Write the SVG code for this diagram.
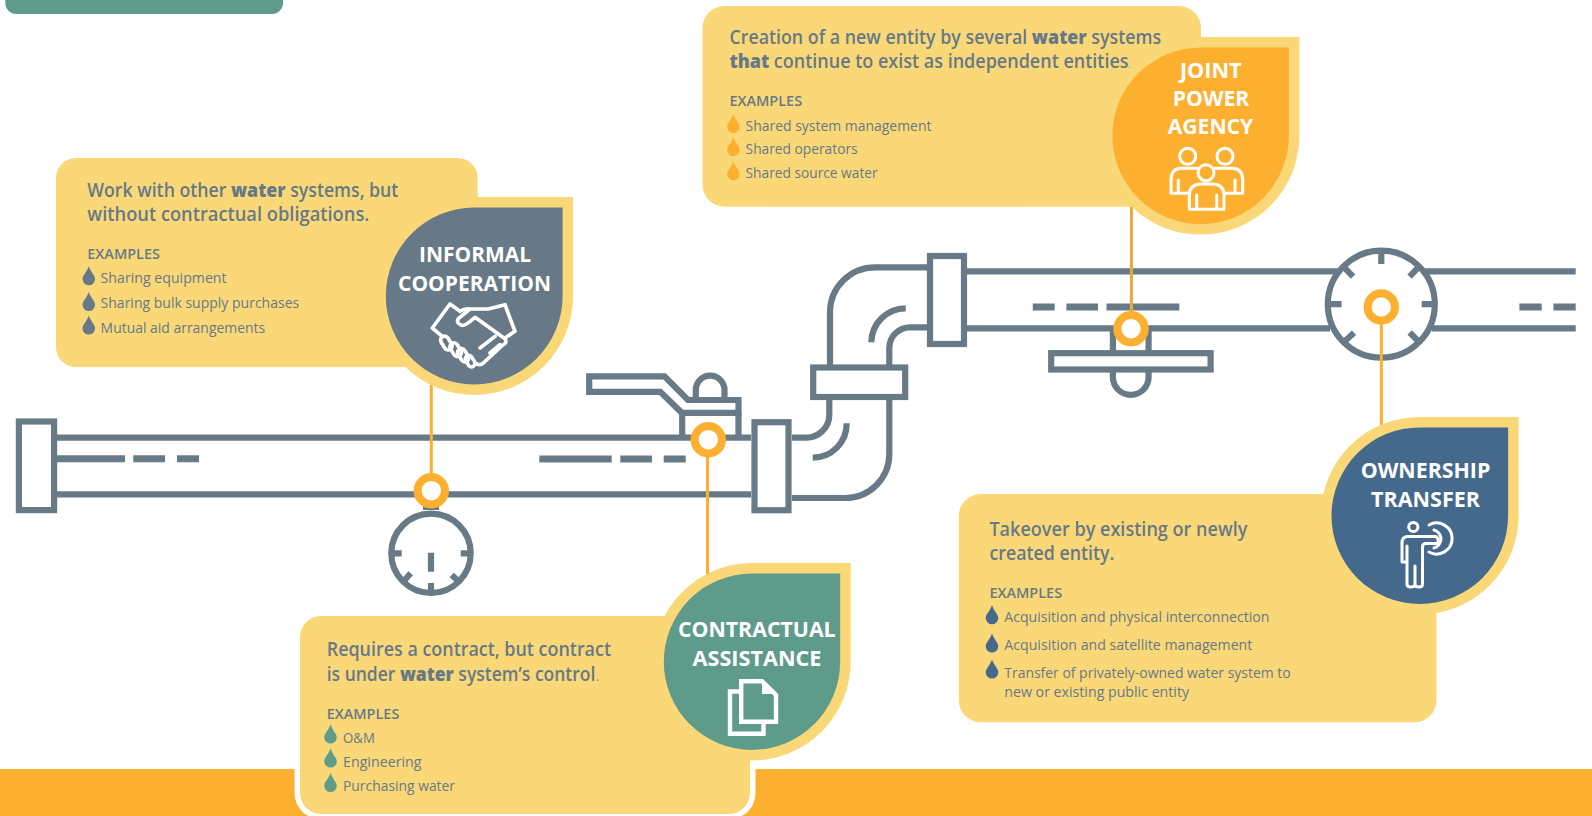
<svg xmlns="http://www.w3.org/2000/svg" xmlns:xlink="http://www.w3.org/1999/xlink" width="1592" height="816" viewBox="0 0 1592 816">
<style>
text{font-family:"Open Sans","Noto Sans","Liberation Sans",sans-serif;fill:#677986}
.h{font-size:19.6px;font-weight:600}
.h tspan.b{font-weight:800}
.ex{font-size:14.6px;font-weight:600}
.it{font-size:14.6px;font-weight:400}
.t{font-size:21.5px;font-weight:700;fill:#fff;text-anchor:middle}
.card{fill:#fad878}
.leaf{stroke:#fad878;stroke-width:21;paint-order:stroke}
.p{fill:none;stroke:#687a86;stroke-width:6.2}
.pw{fill:#fff;stroke:#687a86;stroke-width:6.2}
.d{fill:#687a86}
.ring{fill:#fff;stroke:#fdb02f;stroke-width:8}
.ln{fill:none;stroke:#fdb02f;stroke-width:3}
.ic{fill:none;stroke:#fff;stroke-width:3;stroke-linecap:round;stroke-linejoin:round}
</style>
<defs>
<path id="drop" d="M0-19C1-14 6.3-10 6.3-6A6.3 6.3 0 0 1-6.3-6C-6.3-10-1-14 0-19Z"/>
</defs>
<rect id="top-bar" x="5.3" y="-20" width="277.7" height="34" rx="11" fill="#5f9b8b"/>
<rect id="band" x="0" y="769" width="1592" height="47" fill="#fdb030"/>

<g id="pipes">
<path class="p" d="M57 437.7H751M57 494.3H751M967 271.3H1338M1425 271.3H1575.7M967 328.3H1330M1432 328.3H1575.7"/>
<rect class="pw" x="18.9" y="421.5" width="35.2" height="88.6"/>
<path class="d" d="M57 455.2H125V462.2H57ZM133.3 455.2H165V462.2H133.3ZM177 455.2H199V462.2H177ZM539.3 455.5H611.7V462.5H539.3ZM620.3 455.5H652V462.5H620.3ZM663.7 455.5H685.7V462.5H663.7ZM1032.8 303.5H1054.7V310.5H1032.8ZM1066.4 303.5H1098V310.5H1066.4ZM1106.5 303.5H1179.3V310.5H1106.5ZM1519.4 303.5H1541.7V310.5H1519.4ZM1553.4 303.5H1575.7V310.5H1553.4Z"/>
<g id="gauge-left">
<path class="d" d="M423 495H439V510H423Z"/>
<circle class="pw" cx="431" cy="553.3" r="39.7"/>
<path class="p" d="M394 553.3H401.7M460.7 553.3H468.3M431 552.7V571.7M431 583V592M403 582L410.7 573.3M451.7 575L459.3 582"/>
</g>
<g id="valve-lever">
<path class="pw" d="M589.2 376.3H664.5L688 400H738.5V412.8H681.8L660.3 391.8H589.2Z"/>
<path class="p" d="M682.2 412.8V437M738.5 412.8V437M695.8 398V390A14.35 14.35 0 0 1 724.5 390V398"/>
</g>
<path class="p" d="M792 498H845A44 44 0 0 0 889.3 454V400M792 437.7H806A23 23 0 0 0 829.3 414.7V400M812.7 457.7A34 34 0 0 0 846.7 423.3"/>
<path class="p" d="M830 365V312A45 45 0 0 1 875 267.3H927M889.3 365V348A20.7 20.7 0 0 1 910 327.3H927M871.3 342.3A34.4 34.4 0 0 1 905.7 308.3"/>
<rect class="pw" x="754.5" y="422.2" width="34" height="88"/>
<rect class="pw" x="813.2" y="367.5" width="92" height="29.5"/>
<rect class="pw" x="930" y="256" width="34" height="88"/>
<g id="valve-wheel">
<path class="p" d="M1112.9 328V353M1148.6 328V353M1112.9 372V377A17.85 17.85 0 0 0 1148.6 377V372"/>
<rect class="pw" x="1051.2" y="353.2" width="159.4" height="16.3"/>
</g>
<g id="gauge-right">
<circle class="p" cx="1381.3" cy="304.2" r="53.5"/>
<path class="p" d="M1381.3 252V264M1330.3 304.2H1341.6M1421.7 304.2H1433M1343.5 266.7L1353 276.7M1419 266.7L1409.6 276.7M1344.3 341.7L1354 332.7M1419 341.7L1409.6 332.5"/>
</g>
</g>

<g id="connectors">
<path class="ln" d="M431.3 385V478M707.5 450V575M1381.3 322V428"/>
<path class="ln" style="stroke:#e2ac36" d="M1131.4 200V316"/>
<circle class="ring" cx="431.3" cy="490.7" r="13.7"/>
<circle class="ring" cx="708.3" cy="439.7" r="13.7"/>
<circle class="ring" cx="1131" cy="328.7" r="13.7"/>
<circle class="ring" cx="1381.3" cy="307" r="13.7"/>
</g>

<g id="informal-cooperation">
<rect class="card" x="56" y="158" width="421.6" height="209" rx="20"/>
<path class="leaf" fill="#677986" d="M474.2 207.6H562.6V296A88.4 88.4 0 1 1 474.2 207.6Z"/>
<text class="h" transform="translate(87.3 196.7) scale(.9 1)" textLength="345.6" lengthAdjust="spacingAndGlyphs">Work with other <tspan class="b">water</tspan> systems, but</text>
<text class="h" x="87.3" y="221" textLength="282" lengthAdjust="spacingAndGlyphs">without contractual obligations.</text>
<text class="ex" x="87.3" y="259" textLength="72.7" lengthAdjust="spacingAndGlyphs">EXAMPLES</text>
<use xlink:href="#drop" href="#drop" x="88.8" y="285" fill="#677986"/>
<use xlink:href="#drop" href="#drop" x="88.8" y="310.7" fill="#677986"/>
<use xlink:href="#drop" href="#drop" x="88.8" y="334.3" fill="#677986"/>
<text class="it" x="100.6" y="283.3" textLength="126" lengthAdjust="spacingAndGlyphs">Sharing equipment</text>
<text class="it" x="100.6" y="308.3" textLength="198.6" lengthAdjust="spacingAndGlyphs">Sharing bulk supply purchases</text>
<text class="it" x="100.6" y="332.7" textLength="164.6" lengthAdjust="spacingAndGlyphs">Mutual aid arrangements</text>
<text class="t" x="475" y="262" textLength="112" lengthAdjust="spacingAndGlyphs">INFORMAL</text>
<text class="t" x="474.5" y="290.7" textLength="153" lengthAdjust="spacingAndGlyphs">COOPERATION</text>
<g transform="translate(425 298) scale(.3333)" class="ic" style="stroke-width:11">
<path d="M105 40L75 18L22 90L48 112M105 40Q120 30 135 33L100 62Q92 75 110 82Q120 85 150 58L240 122Q248 135 232 142L175 195Q165 205 150 195M135 33H190L240 20L270 100L240 120M165 150L210 115M195 165L225 140"/>
<rect x="52" y="113" width="24" height="44" rx="12" transform="rotate(-32 64 135)"/>
<rect x="80" y="133" width="24" height="44" rx="12" transform="rotate(-32 92 155)"/>
<rect x="103" y="151" width="23" height="42" rx="11" transform="rotate(-32 114 172)"/>
<rect x="125" y="172" width="21" height="36" rx="10" transform="rotate(-32 135 190)"/>
</g>
</g>

<g id="joint-power-agency">
<rect class="card" x="702.5" y="6" width="498.5" height="200.7" rx="22"/>
<path class="leaf" fill="#fdb02f" d="M1200.6 47.5H1288.9V135.8A88.3 88.3 0 1 1 1200.6 47.5Z"/>
<text class="h" transform="translate(729.4 44) scale(.9 1)" textLength="479.8" lengthAdjust="spacingAndGlyphs">Creation of a new entity by several <tspan class="b">water</tspan> systems</text>
<text class="h" transform="translate(729.4 68.3) scale(.9 1)" textLength="446" lengthAdjust="spacingAndGlyphs"><tspan class="b">that</tspan> continue to exist as independent entities<tspan style="font-size:9px;font-weight:400">.</tspan></text>
<text class="ex" x="729.4" y="105.7" textLength="72.7" lengthAdjust="spacingAndGlyphs">EXAMPLES</text>
<use xlink:href="#drop" href="#drop" x="733.4" y="132.7" fill="#fdb02f"/>
<use xlink:href="#drop" href="#drop" x="733.4" y="155.7" fill="#fdb02f"/>
<use xlink:href="#drop" href="#drop" x="733.4" y="180" fill="#fdb02f"/>
<text class="it" x="745.6" y="131" textLength="185.8" lengthAdjust="spacingAndGlyphs">Shared system management</text>
<text class="it" x="745.6" y="154.3" textLength="112" lengthAdjust="spacingAndGlyphs">Shared operators</text>
<text class="it" x="745.6" y="177.7" textLength="132" lengthAdjust="spacingAndGlyphs">Shared source water</text>
<text class="t" x="1210.8" y="77.7" textLength="61.7" lengthAdjust="spacingAndGlyphs">JOINT</text>
<text class="t" x="1211" y="105.7" textLength="76.6" lengthAdjust="spacingAndGlyphs">POWER</text>
<text class="t" x="1210.5" y="134.3" textLength="85.6" lengthAdjust="spacingAndGlyphs">AGENCY</text>
<g class="ic">
<circle cx="1187.7" cy="156.3" r="8"/><circle cx="1225" cy="156.3" r="8"/><circle cx="1206" cy="172.7" r="8"/>
<path d="M1197.3 168.3H1181.7Q1171 168.3 1171 180V193.3H1189.3M1178.3 180V193.3M1215 168.3H1231.7Q1242.7 168.3 1242.7 180V193.3H1225M1235 180V193.3M1189.3 209.3V195Q1189.3 184 1201.7 184H1211.7Q1224 184 1224 195V209.3ZM1196.7 195V209.3M1216.7 195V209.3"/>
</g>
</g>

<g id="contractual-assistance">
<rect x="294.5" y="610" width="461" height="209" rx="26" fill="#fff"/>
<rect class="card" x="300" y="616" width="450" height="198" rx="21"/>
<path class="leaf" fill="#5f9b8b" d="M752 573.5H840.2V661.7A88.2 88.2 0 1 1 752 573.5Z"/>
<text class="h" x="326.7" y="656" textLength="284.3" lengthAdjust="spacingAndGlyphs">Requires a contract, but contract</text>
<text class="h" transform="translate(326.7 680.7) scale(.9 1)" textLength="303.2" lengthAdjust="spacingAndGlyphs">is under <tspan class="b">water</tspan> system’s control<tspan style="font-weight:300">.</tspan></text>
<text class="ex" x="326.7" y="718.7" textLength="72.7" lengthAdjust="spacingAndGlyphs">EXAMPLES</text>
<use xlink:href="#drop" href="#drop" x="330.5" y="743.3" fill="#5f9b8b"/>
<use xlink:href="#drop" href="#drop" x="330.5" y="767.3" fill="#5f9b8b"/>
<use xlink:href="#drop" href="#drop" x="330.5" y="791.7" fill="#5f9b8b"/>
<text class="it" x="343" y="743.3" textLength="31.8" lengthAdjust="spacingAndGlyphs">O&amp;M</text>
<text class="it" x="343" y="766.7" textLength="78.5" lengthAdjust="spacingAndGlyphs">Engineering</text>
<text class="it" x="343" y="790.7" textLength="112" lengthAdjust="spacingAndGlyphs">Purchasing water</text>
<text class="t" x="756.8" y="637.3" textLength="157.7" lengthAdjust="spacingAndGlyphs">CONTRACTUAL</text>
<text class="t" x="757" y="665.7" textLength="129" lengthAdjust="spacingAndGlyphs">ASSISTANCE</text>
<g class="ic" style="stroke-width:4.4;stroke-linecap:butt;stroke-linejoin:miter">
<path d="M741.2 681.2H762L776 695V721.8H741.2ZM739 691.5H730V733.8H763.5V724"/>
<path d="M762 681L777 694H762Z" fill="#fff" stroke="none"/>
</g>
</g>

<g id="ownership-transfer">
<rect class="card" x="958.8" y="494" width="477.6" height="228.3" rx="22"/>
<path class="leaf" fill="#45698c" d="M1419.8 427.4H1508.1V515.7A88.3 88.3 0 1 1 1419.8 427.4Z"/>
<text class="h" x="989.4" y="536" textLength="258" lengthAdjust="spacingAndGlyphs">Takeover by existing or newly</text>
<text class="h" x="989.4" y="560.3" textLength="125" lengthAdjust="spacingAndGlyphs">created entity.</text>
<text class="ex" x="989.4" y="598.3" textLength="72.7" lengthAdjust="spacingAndGlyphs">EXAMPLES</text>
<use xlink:href="#drop" href="#drop" x="992" y="624" fill="#45698c"/>
<use xlink:href="#drop" href="#drop" x="992" y="652.3" fill="#45698c"/>
<use xlink:href="#drop" href="#drop" x="992" y="678.3" fill="#45698c"/>
<text class="it" x="1004.3" y="622.3" textLength="265.2" lengthAdjust="spacingAndGlyphs">Acquisition and physical interconnection</text>
<text class="it" x="1004.3" y="650" textLength="248" lengthAdjust="spacingAndGlyphs">Acquisition and satellite management</text>
<text class="it" x="1004.3" y="677.7" textLength="286.3" lengthAdjust="spacingAndGlyphs">Transfer of privately-owned water system to</text>
<text class="it" x="1004.3" y="696.7" textLength="184.8" lengthAdjust="spacingAndGlyphs">new or existing public entity</text>
<text class="t" x="1425.5" y="478.3" textLength="129.7" lengthAdjust="spacingAndGlyphs">OWNERSHIP</text>
<text class="t" x="1425.5" y="506.7" textLength="109" lengthAdjust="spacingAndGlyphs">TRANSFER</text>
<g class="ic" style="stroke-width:3">
<circle cx="1413.3" cy="527" r="4.6"/>
<path d="M1436 536.5H1408Q1402 536.5 1402 543V562H1407M1407 546V584Q1407 587 1411 587Q1415 587 1415 584V566M1415 584Q1415 587 1419 587Q1422.5 587 1422.5 584V547Q1422.5 543.5 1426 543.5H1437Q1440 540 1436 536.5"/>
<path d="M1429 525A15.5 15.5 0 1 1 1429 552M1434 530A9.3 9.3 0 0 1 1434 548"/>
</g>
</g>
</svg>
